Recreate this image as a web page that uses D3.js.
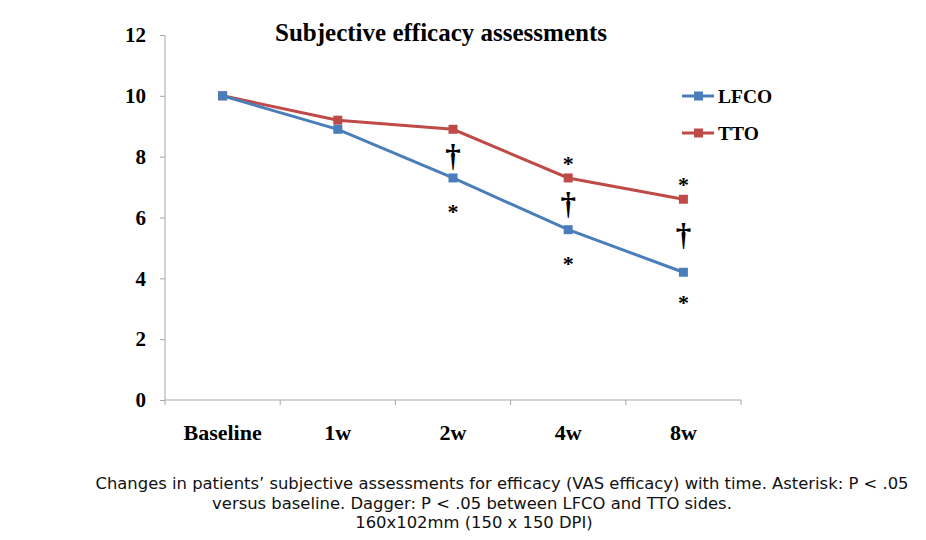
<!DOCTYPE html>
<html><head><meta charset="utf-8">
<script src="https://cdn.jsdelivr.net/npm/d3@7"></script>
<style>
body{margin:0;background:#fff;}
svg{display:block;}
</style></head>
<body>
<svg id="c" width="926" height="540"></svg>
<script>
const categories = ["Baseline","1w","2w","4w","8w"];
const lfco = [10, 8.9, 7.3, 5.6, 4.2];
const tto = [10, 9.2, 8.9, 7.3, 6.6];
const yTicks = [0,2,4,6,8,10,12];
const seriesNames = ["LFCO","TTO"];
// significance marks: category, symbol, value level where drawn
const markCats = ["2w","2w","4w","4w","4w","8w","8w","8w"];
const markSyms = ["†","*","*","†","*","*","†","*"];
const markLevels = [8.05, 6.3, 7.9, 6.45, 4.6, 7.2, 5.45, 3.3];
const captionLines = [
  "Changes in patients\u2019 subjective assessments for efficacy (VAS efficacy) with time. Asterisk: P < .05",
  "versus baseline. Dagger: P < .05 between LFCO and TTO sides.",
  "160x102mm (150 x 150 DPI)"
];

const svg = d3.select("#c");
const x = d3.scaleBand().domain(categories).range([165, 741]);
const y = d3.scaleLinear().domain([0,12]).range([400, 35]);
const axisColor = "#a6a6a6";
const serif = "'Liberation Serif','Times New Roman',serif";

// Y axis
const ya = svg.append("g").attr("transform","translate(165,0)")
  .call(d3.axisLeft(y).tickValues(yTicks).tickSize(5).tickPadding(14).tickFormat(d3.format("d")));
ya.select(".domain").attr("stroke",axisColor).attr("d","M0,35V400");
ya.selectAll(".tick line").attr("stroke",axisColor);
ya.selectAll("text").attr("font-family",serif).attr("font-weight","bold").attr("font-size",21).attr("fill","#000");

// X axis
const xa = svg.append("g").attr("transform","translate(0,400)")
  .call(d3.axisBottom(x).tickSize(0).tickPadding(24));
xa.select(".domain").attr("stroke",axisColor).attr("d","M165,0H741");
xa.selectAll("text").attr("font-family",serif).attr("font-weight","bold").attr("font-size",22).attr("fill","#000");
const bounds = categories.map(c=>x(c)).concat([x.range()[1]]);
svg.append("g").selectAll("line").data(bounds).join("line")
  .attr("x1",d=>d).attr("x2",d=>d).attr("y1",400).attr("y2",405).attr("stroke",axisColor);

// Lines
const cx = c => x(c) + x.bandwidth()/2;
const line = d3.line().x((d,i)=>cx(categories[i])).y(d=>y(d));
const series = [{name:"TTO", vals:tto, color:"#be4b48"},{name:"LFCO", vals:lfco, color:"#4a7ebb"}];
series.forEach(s=>{
  svg.append("path").attr("d",line(s.vals)).attr("fill","none").attr("stroke",s.color).attr("stroke-width",3);
  svg.append("g").selectAll("rect").data(s.vals).join("rect")
    .attr("x",(d,i)=>cx(categories[i])-4.5).attr("y",d=>y(d)-4.5).attr("width",9).attr("height",9)
    .attr("fill",s.color);
});

// Marks
svg.append("g").selectAll("text").data(markSyms).join("text")
  .attr("x",(d,i)=>cx(markCats[i]))
  .attr("y",(d,i)=>y(markLevels[i]))
  .attr("text-anchor","middle")
  .attr("dominant-baseline","central")
  .attr("font-family",serif).attr("font-weight","bold")
  .attr("font-size",d=>d==="†"?31:22)
  .attr("dy",d=>d==="*"?"0.15em":"0")
  .text(d=>d);

// Title
svg.append("text").attr("x",441).attr("y",41).attr("text-anchor","middle")
  .attr("font-family",serif).attr("font-weight","bold").attr("font-size",25).text("Subjective efficacy assessments");

// Legend
const legY = [96, 133];
const legColors = ["#4a7ebb","#be4b48"];
seriesNames.forEach((n,i)=>{
  const g = svg.append("g");
  g.append("line").attr("x1",682).attr("x2",714).attr("y1",legY[i]).attr("y2",legY[i]).attr("stroke",legColors[i]).attr("stroke-width",3);
  g.append("rect").attr("x",694).attr("y",legY[i]-4.5).attr("width",9).attr("height",9).attr("fill",legColors[i]);
  g.append("text").attr("x",718).attr("y",legY[i]+7).attr("font-family",serif).attr("font-weight","bold").attr("font-size",19.5).text(n);
});

// Caption
const capX = [502, 472, 474];
const capY = [489, 509, 528];
svg.append("g").selectAll("text").data(captionLines).join("text")
  .attr("x",(d,i)=>capX[i]).attr("y",(d,i)=>capY[i]).attr("text-anchor","middle")
  .attr("font-family","'DejaVu Sans',Verdana,sans-serif").attr("font-size",16.4).attr("fill","#111")
  .text(d=>d);
</script>
</body></html>
